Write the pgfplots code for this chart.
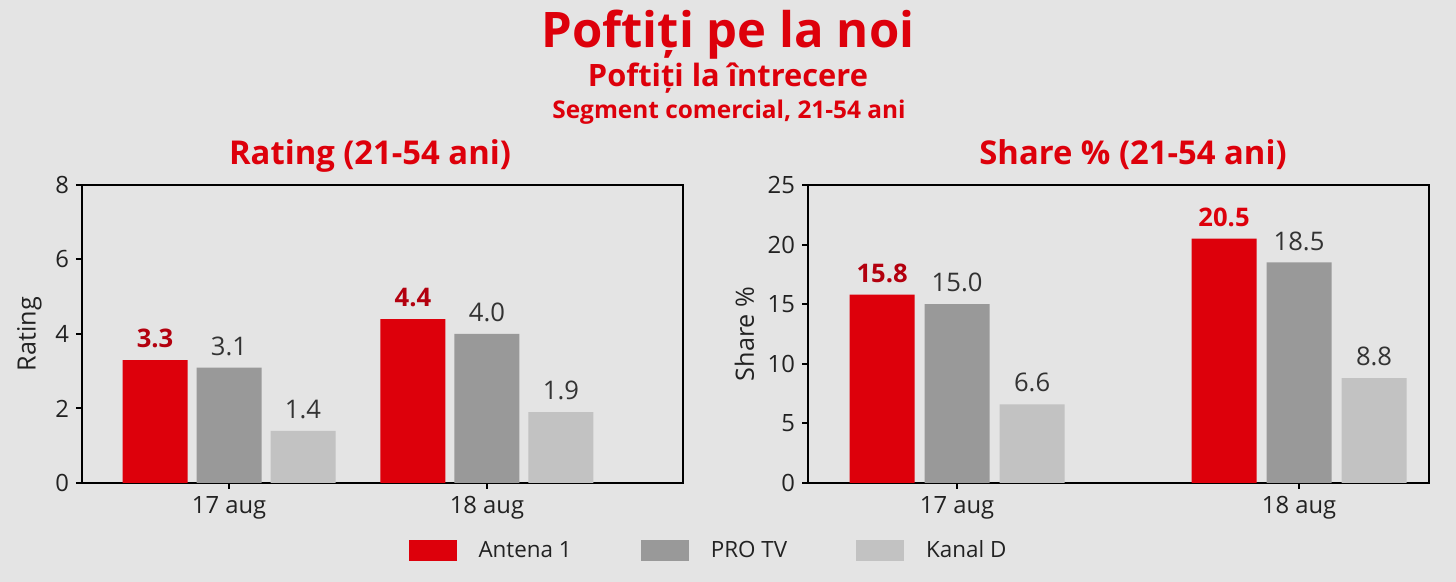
\documentclass[border=0pt]{standalone}
\usepackage{pgfplots}
\pgfplotsset{compat=1.18}
\usepackage{fontspec}
\setmainfont{Open Sans}
\definecolor{bg}{HTML}{E4E4E4}
\definecolor{ared}{HTML}{DD000B}
\definecolor{dred}{HTML}{B3000E}
\definecolor{pgray}{HTML}{999999}
\definecolor{lgray}{HTML}{C2C2C2}
\definecolor{txt}{HTML}{222222}
\definecolor{lbl}{HTML}{333333}
\pgfplotsset{
  mybars/.style={
    scale only axis,
    height=149pt,
    ybar=4.5pt,
    bar width=32.5pt,
    ymin=0,
    xtick={0,1},
    xticklabels={17 aug,18 aug},
    tick align=outside,
    xtick pos=bottom, ytick pos=left,
    major tick length=3pt,
    axis line style={black,line width=1pt},
    every tick/.style={black,line width=1pt},
    tick label style={font=\fontsize{11.9}{13}\selectfont, text=txt},
    ylabel style={font=\fontsize{12.6}{14}\selectfont, text=txt},
    /pgf/number format/assume math mode=true,
    nodes near coords,
    nodes near coords style={font=\fontsize{12.8}{14}\selectfont, text=lbl, yshift=2.5pt,
      /pgf/number format/fixed, /pgf/number format/fixed zerofill,
      /pgf/number format/precision=1, /pgf/number format/assume math mode=true},
    legend image code/.code={\fill[#1,draw=none] (0pt,-5.25pt) rectangle (24pt,5.25pt);},
  },
  redbar/.style={fill=ared, draw=none,
    nodes near coords style={text=dred, font=\bfseries\fontsize{12.8}{14}\selectfont}},
  redbarR/.style={fill=ared, draw=none,
    nodes near coords={\pgfmathfloattofixed{\pgfplotspointmeta}\ifdim\pgfmathresult pt>20pt\relax\color{ared}\else\color{dred}\fi\pgfmathprintnumber{\pgfplotspointmeta}},
    nodes near coords style={font=\bfseries\fontsize{12.8}{14}\selectfont}},
  graybar/.style={fill=pgray, draw=none},
  lightbar/.style={fill=lgray, draw=none},
}
\begin{document}
\begin{tikzpicture}
\fill[bg] (0,0) rectangle (728pt,291pt);
\node[anchor=base, text=ared, font=\bfseries\fontsize{24.5}{28}\selectfont] at (364pt,267pt) {Poftiți pe la noi};
\node[anchor=base, text=ared, font=\bfseries\fontsize{15.4}{17}\selectfont] at (364pt,247.5pt) {Poftiți la întrecere};
\node[anchor=base, text=ared, font=\bfseries\fontsize{12.2}{13}\selectfont] at (364.5pt,231.5pt) {Segment comercial, 21-54 ani};
\node[anchor=base, text=ared, font=\bfseries\fontsize{16.4}{19}\selectfont] at (185pt,208.5pt) {Rating (21-54 ani)};
\node[anchor=base, text=ared, font=\bfseries\fontsize{16.4}{19}\selectfont] at (566.5pt,208.5pt) {Share \% (21-54 ani)};

\begin{axis}[mybars,
  at={(41pt,49.5pt)}, anchor=south west,
  width=300.5pt,
  xmin=-0.57, xmax=1.76,
  ymax=8, ytick={0,2,4,6,8},
  ylabel={Rating},
  legend columns=3,
  legend style={at={(1.044,-0.228)}, anchor=center, draw=none, fill=none,
    font=\fontsize{11.2}{13}\selectfont, text=txt,
    /tikz/every odd column/.append style={column sep=9pt},
    /tikz/every even column/.append style={column sep=32.5pt}},
]
\addplot[redbar] coordinates {(0,3.3) (1,4.4)};
\addplot[graybar] coordinates {(0,3.1) (1,4.0)};
\addplot[lightbar] coordinates {(0,1.4) (1,1.9)};
\legend{Antena 1,PRO TV,Kanal D}
\end{axis}

\begin{axis}[mybars,
  at={(404pt,49.5pt)}, anchor=south west,
  width=310.5pt,
  ybar=5pt,
  xmin=-0.436, xmax=1.38,
  ymax=25, ytick={0,5,10,15,20,25},
  ylabel={Share \%},
]
\addplot[redbarR] coordinates {(0,15.8) (1,20.5)};
\addplot[graybar] coordinates {(0,15.0) (1,18.5)};
\addplot[lightbar] coordinates {(0,6.6) (1,8.8)};
\end{axis}
\pgfresetboundingbox
\path[use as bounding box] (0,0) rectangle (728pt,291pt);
\end{tikzpicture}
\end{document}
